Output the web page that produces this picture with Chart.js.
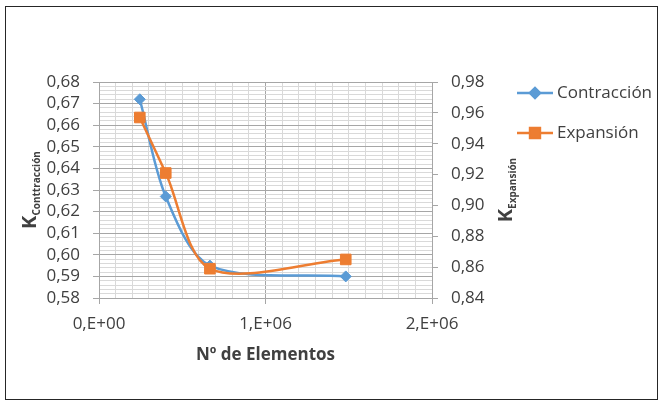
<!DOCTYPE html>
<html>
<head>
<meta charset="utf-8">
<script src="https://cdn.jsdelivr.net/npm/chart.js@4/dist/chart.umd.min.js"></script>
<style>
  html, body { margin: 0; padding: 0; background: #ffffff; }
  #wrap { position: relative; width: 660px; height: 401px; }
</style>
</head>
<body>
<div id="wrap"><canvas id="chart"></canvas></div>
<script>
// Number of mesh elements for each simulation
const numElements = [245000, 401000, 666000, 1482000];
// Loss coefficients
const kContraccion = [0.672, 0.627, 0.595, 0.590];
const kExpansion = [0.957, 0.921, 0.859, 0.865];
// Series names
const seriesNames = ['Contracción', 'Expansión'];
// Axis tick labels
const xTickValues = [0, 1000000, 2000000];
const xTickLabels = ['0,E+00', '1,E+06', '2,E+06'];
const xTitle = 'Nº de Elementos';
const yTitleMain = 'K', yTitleSub = 'Conttracción';
const y1TitleMain = 'K', y1TitleSub = 'Expansión';

const BLUE = '#5b9bd5';
const ORANGE = '#ed7d31';
const TEXT = '#404040';
const MAJOR = '#a6a6a6';
const MINOR = '#d9d9d9';
const FONT = "'Open Sans', sans-serif";

const isMultiple = (v, step) => Math.abs(v / step - Math.round(v / step)) < 1e-6;
const decimalComma = v => v.toFixed(2).replace('.', ',');

// Axis titles with subscripts, legend and outer frame
const decorations = {
  id: 'decorations',
  afterDraw(chart) {
    const ctx = chart.ctx;
    const area = chart.chartArea;
    ctx.save();

    // outer frame
    ctx.strokeStyle = '#262626';
    ctx.lineWidth = 1;
    ctx.strokeRect(5.5, 6.5, 652, 393);

    // x title
    ctx.fillStyle = TEXT;
    ctx.font = `bold 17px ${FONT}`;
    ctx.textAlign = 'center';
    ctx.textBaseline = 'middle';
    ctx.fillText(xTitle, (area.left + area.right) / 2, 355);

    // rotated titles with subscript
    const rotatedTitle = (main, sub, baseX, cy) => {
      ctx.save();
      ctx.translate(baseX, cy);
      ctx.rotate(-Math.PI / 2);
      ctx.textBaseline = 'alphabetic';
      ctx.textAlign = 'left';
      ctx.font = `bold 20px ${FONT}`;
      const wMain = ctx.measureText(main).width;
      ctx.font = `bold 10px ${FONT}`;
      const wSub = ctx.measureText(sub).width;
      const start = -(wMain + wSub) / 2;
      ctx.font = `bold 20px ${FONT}`;
      ctx.fillText(main, start, 0);
      ctx.font = `bold 10px ${FONT}`;
      ctx.fillText(sub, start + wMain, 4);
      ctx.restore();
    };
    const cy = (area.top + area.bottom) / 2;
    rotatedTitle(yTitleMain, yTitleSub, 36, cy);
    rotatedTitle(y1TitleMain, y1TitleSub, 512, cy);

    // legend
    const entries = [
      { name: seriesNames[0], color: BLUE, style: 'rectRot', radius: 5, y: 93 },
      { name: seriesNames[1], color: ORANGE, style: 'rect', radius: 7, y: 133 }
    ];
    entries.forEach(e => {
      ctx.strokeStyle = e.color;
      ctx.lineWidth = 2.5;
      ctx.beginPath();
      ctx.moveTo(517, e.y);
      ctx.lineTo(553, e.y);
      ctx.stroke();
      ctx.fillStyle = e.color;
      Chart.helpers.drawPoint(ctx, { pointStyle: e.style, radius: e.radius, borderWidth: 1, rotation: 0 }, 535, e.y);
      ctx.fill();
      ctx.fillStyle = TEXT;
      ctx.font = `17px ${FONT}`;
      ctx.textAlign = 'left';
      ctx.textBaseline = 'middle';
      ctx.fillText(e.name, 557, e.y);
    });
    ctx.restore();
  }
};

new Chart(document.getElementById('chart'), {
  type: 'line',
  data: {
    datasets: [
      {
        label: seriesNames[0],
        data: numElements.map((x, i) => ({ x, y: kContraccion[i] })),
        yAxisID: 'y',
        borderColor: BLUE,
        backgroundColor: BLUE,
        borderWidth: 2.5,
        pointStyle: 'rectRot',
        pointRadius: 5.5,
        pointBorderWidth: 1,
        tension: 0.3,
        order: 1
      },
      {
        label: seriesNames[1],
        data: numElements.map((x, i) => ({ x, y: kExpansion[i] })),
        yAxisID: 'y1',
        borderColor: ORANGE,
        backgroundColor: ORANGE,
        borderWidth: 2.5,
        pointStyle: 'rect',
        pointRadius: 7.5,
        pointBorderWidth: 1,
        tension: 0.3,
        order: 0
      }
    ]
  },
  options: {
    responsive: true,
    maintainAspectRatio: false,
    animation: false,
    layout: { padding: { top: 82, left: 0, right: 0, bottom: 0 } },
    plugins: { legend: { display: false }, tooltip: { enabled: false } },
    scales: {
      x: {
        type: 'linear',
        position: 'bottom',
        min: 0,
        max: 2000000,
        afterFit: s => { s.height = 103; },
        border: { color: MAJOR },
        grid: {
          tickLength: 6,
          color: c => isMultiple(c.tick.value, 1e6) ? MAJOR : MINOR,
          tickColor: c => isMultiple(c.tick.value, 1e6) ? MAJOR : 'rgba(0,0,0,0)'
        },
        ticks: {
          stepSize: 100000,
          autoSkip: false,
          maxRotation: 0,
          padding: 10,
          color: TEXT,
          font: { family: FONT, size: 17 },
          callback: v => {
            const i = xTickValues.findIndex(t => Math.abs(t - v) < 1);
            return i >= 0 ? xTickLabels[i] : '';
          }
        }
      },
      y: {
        position: 'left',
        min: 0.58,
        max: 0.68,
        afterFit: s => { s.width = 99; },
        border: { color: MAJOR },
        grid: {
          tickLength: 6,
          color: c => isMultiple(c.tick.value, 0.01) ? MAJOR : MINOR,
          tickColor: c => isMultiple(c.tick.value, 0.01) ? MAJOR : 'rgba(0,0,0,0)'
        },
        ticks: {
          stepSize: 0.002,
          autoSkip: false,
          padding: 13,
          color: TEXT,
          font: { family: FONT, size: 17 },
          callback: v => isMultiple(v, 0.01) ? decimalComma(v) : ''
        }
      },
      y1: {
        position: 'right',
        min: 0.84,
        max: 0.98,
        afterFit: s => { s.width = 228; },
        border: { color: MAJOR },
        grid: { drawOnChartArea: false, tickLength: 6, tickColor: MAJOR },
        ticks: {
          stepSize: 0.02,
          padding: 13,
          color: TEXT,
          font: { family: FONT, size: 17 },
          callback: v => decimalComma(v)
        }
      }
    }
  },
  plugins: [decorations]
});
</script>
</body>
</html>
